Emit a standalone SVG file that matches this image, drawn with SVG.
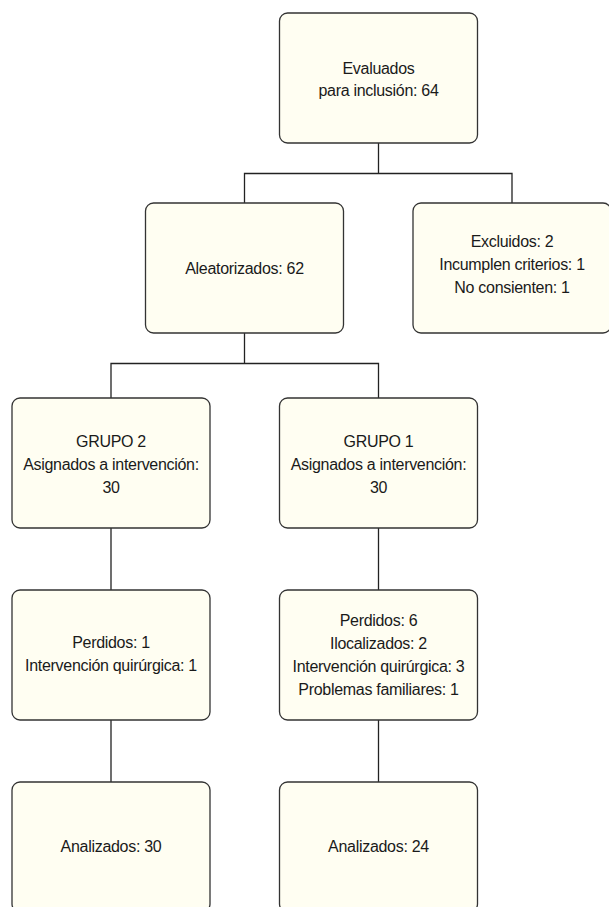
<svg xmlns="http://www.w3.org/2000/svg" width="609" height="907" viewBox="0 0 609 907">
<style>
.box{fill:#fffef2;stroke:#333;stroke-width:1.3}
.t{font-family:"Liberation Sans",Arial,sans-serif;font-size:16px;letter-spacing:-0.3px;fill:#1a1a1a;text-anchor:middle}
.c{fill:none;stroke:#222;stroke-width:1.3}
</style>
<rect width="609" height="907" fill="#ffffff"/>
<g id="connectors">
<path class="c" d="M378.5 143V173.5M244.5 203V173.5H512V203"/>
<path class="c" d="M244.5 333V363.5M111 398V363.5H378.5V398"/>
<path class="c" d="M111 528V590M111 720V782"/>
<path class="c" d="M378.5 528V590M378.5 720V782"/>
</g>
<g id="evaluados">
<rect class="box" x="279.5" y="13" width="198" height="130" rx="8"/>
<text class="t" x="378.5" y="74">Evaluados</text>
<text class="t" x="378.5" y="96">para inclusión: 64</text>
</g>
<g id="aleatorizados">
<rect class="box" x="145.5" y="203" width="198" height="130" rx="8"/>
<text class="t" x="244.5" y="274">Aleatorizados: 62</text>
</g>
<g id="excluidos">
<rect class="box" x="413" y="203" width="198" height="130" rx="8"/>
<text class="t" x="512" y="247">Excluidos: 2</text>
<text class="t" x="512" y="270">Incumplen criterios: 1</text>
<text class="t" x="512" y="293">No consienten: 1</text>
</g>
<g id="grupo2">
<rect class="box" x="12" y="398" width="198" height="130" rx="8"/>
<text class="t" x="111" y="447">GRUPO 2</text>
<text class="t" x="111" y="470">Asignados a intervención:</text>
<text class="t" x="111" y="493">30</text>
</g>
<g id="grupo1">
<rect class="box" x="279.5" y="398" width="198" height="130" rx="8"/>
<text class="t" x="378.5" y="447">GRUPO 1</text>
<text class="t" x="378.5" y="470">Asignados a intervención:</text>
<text class="t" x="378.5" y="493">30</text>
</g>
<g id="perdidos2">
<rect class="box" x="12" y="590" width="198" height="130" rx="8"/>
<text class="t" x="111" y="648">Perdidos: 1</text>
<text class="t" x="111" y="671">Intervención quirúrgica: 1</text>
</g>
<g id="perdidos1">
<rect class="box" x="279.5" y="590" width="198" height="130" rx="8"/>
<text class="t" x="378.5" y="626">Perdidos: 6</text>
<text class="t" x="378.5" y="649">Ilocalizados: 2</text>
<text class="t" x="378.5" y="672">Intervención quirúrgica: 3</text>
<text class="t" x="378.5" y="695">Problemas familiares: 1</text>
</g>
<g id="analizados2">
<rect class="box" x="12" y="782" width="198" height="130" rx="8"/>
<text class="t" x="111" y="852">Analizados: 30</text>
</g>
<g id="analizados1">
<rect class="box" x="279.5" y="782" width="198" height="130" rx="8"/>
<text class="t" x="378.5" y="852">Analizados: 24</text>
</g>
</svg>
